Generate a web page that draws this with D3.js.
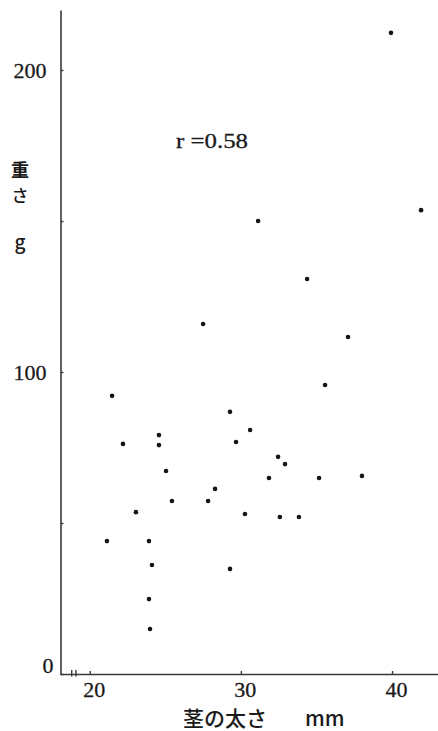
<!DOCTYPE html>
<html>
<head>
<meta charset="utf-8">
<style>
    body { margin: 0; background: #fff; }
</style>
</head>
<body>
<script src="https://d3js.org/d3.v7.min.js"></script>
<script>
    // 茎の太さ (mm) / 重さ (g)
    let stem_mm = [39.93, 41.92, 31.14, 27.50, 34.38, 37.09, 35.57, 21.48, 22.20, 24.58, 24.58,
                   25.05, 29.28, 30.61, 29.68, 32.46, 32.92, 31.86, 35.17, 38.01, 28.29, 25.44,
                   27.83, 23.06, 21.14, 23.92, 24.12, 23.92, 23.99, 30.27, 32.58, 33.84, 29.28]
    let weight_g = [212.3, 153.6, 150.0, 115.9, 130.8, 111.6, 95.7, 92.1, 76.2, 79.1, 75.8,
                    67.2, 86.8, 80.8, 76.8, 71.9, 69.5, 64.9, 64.9, 65.6, 61.3, 57.3,
                    57.3, 53.6, 44.0, 44.0, 36.1, 24.8, 14.9, 53.0, 52.0, 52.0, 34.8]
    let x_ticks = [20, 30, 40]
    let y_ticks = [0, 50, 100, 150, 200]
    let y_labels = [0, 100, 200]
    let x_break = [18.81, 19.09]
    let r_text = "r =0.58"
    let y_title = ["重", "さ"], y_unit = "g"
    let x_title = "茎の太さ", x_unit = "mm"

    let svgContainer = d3.select("body").append("svg")
                                        .attr("width", 438).attr("height", 731)

    let serif = "'Liberation Serif', 'DejaVu Serif', serif",
        jp = "'Noto Sans CJK JP', 'Noto Sans', sans-serif",
        ink = "#1a1a1a",
        axis_gray = "#3a3a3a"

    let x = d3.scaleLinear().domain([18.035, 43.04]).range([60, 438])
    let y = d3.scaleLinear().domain([0, 219.87]).range([674, 10])

    // x axis, ticks point up into the plot
    let gx = svgContainer.append("g").attr("transform", "translate(0,674)")
        .call(d3.axisBottom(x).tickValues(x_ticks).tickSizeInner(-3).tickSizeOuter(0).tickFormat(d3.format("d")))
    gx.select(".domain").attr("stroke", axis_gray).attr("stroke-width", 1.6)
    gx.selectAll(".tick line").attr("stroke", axis_gray).attr("stroke-width", 1.4)
    gx.selectAll(".tick text").attr("y", 23).attr("dy", 0).attr("dx", 4)
        .attr("fill", ink).attr("stroke", ink).attr("stroke-width", 0.3)
        .style("font-family", serif).style("font-size", "22px")

    // axis break marks
    svgContainer.selectAll(".brk").data(x_break).enter().append("line")
        .attr("x1", d => x(d)).attr("x2", d => x(d))
        .attr("y1", 670).attr("y2", 676.5)
        .attr("stroke", axis_gray).attr("stroke-width", 1.4)

    // y axis, ticks point right into the plot
    let gy = svgContainer.append("g").attr("transform", "translate(60.5,0)")
        .call(d3.axisLeft(y).tickValues(y_ticks).tickSizeInner(-3).tickSizeOuter(0)
              .tickFormat(d => y_labels.includes(d) ? d : ""))
    gy.select(".domain").attr("stroke", axis_gray).attr("stroke-width", 1.6)
    gy.selectAll(".tick line").attr("stroke", axis_gray).attr("stroke-width", 1.4)
    gy.selectAll(".tick text").attr("x", -14)
        .attr("fill", ink).attr("stroke", ink).attr("stroke-width", 0.3)
        .style("font-family", serif).style("font-size", "22px")
    gy.selectAll(".tick").filter(d => d == 0).select("text").attr("x", -7).attr("y", -8.5)

    // points
    svgContainer.selectAll(".pt").data(stem_mm).enter().append("circle")
        .attr("cx", d => x(d)).attr("cy", (d, i) => y(weight_g[i]))
        .attr("r", 2.3).attr("fill", "#151515")

    svgContainer.append("text").attr("x", 176).attr("y", 148)
        .attr("textLength", 72).attr("lengthAdjust", "spacingAndGlyphs")
        .attr("fill", ink).attr("stroke", ink).attr("stroke-width", 0.3)
        .style("font-family", serif).style("font-size", "22px")
        .text(r_text)

    // y title, stacked
    svgContainer.append("text").attr("x", 20).attr("y", 177).attr("text-anchor", "middle")
        .attr("fill", ink).style("font-family", jp).style("font-size", "18px").style("font-weight", 700)
        .text(y_title[0])
    svgContainer.append("text").attr("x", 20).attr("y", 202).attr("text-anchor", "middle")
        .attr("fill", ink).style("font-family", jp).style("font-size", "17px").style("font-weight", 500)
        .text(y_title[1])
    svgContainer.append("text").attr("x", 20).attr("y", 249).attr("text-anchor", "middle")
        .attr("fill", ink).style("font-family", jp).style("font-size", "19px").style("font-weight", 500)
        .text(y_unit)

    // x title
    let xt = svgContainer.append("text").attr("y", 726)
        .attr("fill", ink).style("font-family", jp).style("font-size", "21px").style("font-weight", 500)
    xt.append("tspan").attr("x", 183).text(x_title)
    xt.append("tspan").attr("x", 305).text(x_unit)
</script>
</body>
</html>
